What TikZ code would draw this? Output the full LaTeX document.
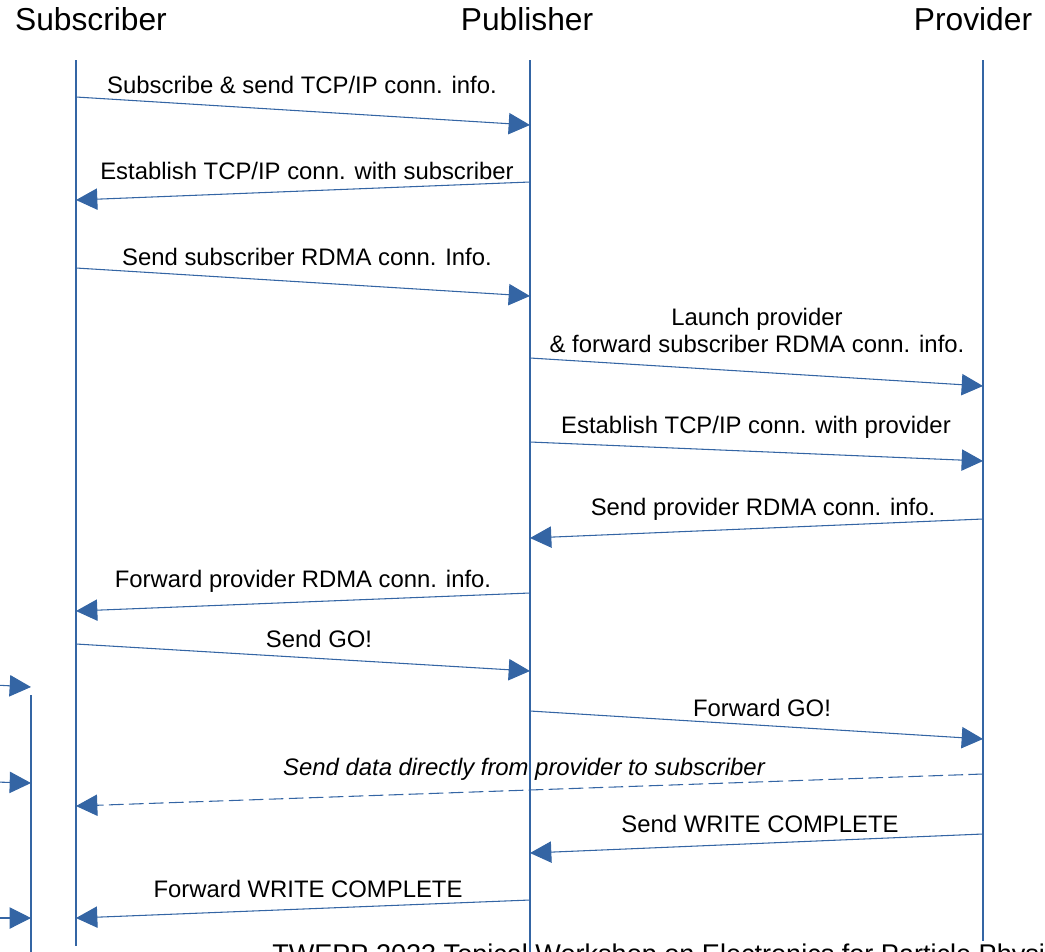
\documentclass[tikz,border=0pt]{standalone}
\usepackage{fontspec}
\setmainfont{Liberation Sans}
\usetikzlibrary{arrows.meta}
\definecolor{lineblue}{HTML}{3465A4}

\begin{document}
\begin{tikzpicture}[x=0.75pt,y=-0.75pt,
    life/.style={draw=lineblue,line width=2pt},
    msg/.style={draw=lineblue,line width=0.8pt,-{Triangle[length=16pt,width=16pt]}},
    data/.style={msg,dash pattern=on 11pt off 4pt},
    lbl/.style={font=\fontsize{17.9}{20.25}\selectfont,inner sep=0pt,align=center},
    head/.style={font=\fontsize{23.8}{26}\selectfont,inner sep=0pt}]
    \useasboundingbox (0,0) rectangle (1045,951);

    % participants
    \node[head] (sub)  at (91,19)  {Subscriber};
    \node[head] (pub)  at (527,19) {Publisher};
    \node[head] (prov) at (973,19) {Provider};

    \coordinate (sTop) at (76,60);   \coordinate (sBot) at (76,946);
    \coordinate (pTop) at (530,60);  \coordinate (pBot) at (530,965);
    \coordinate (vTop) at (983,60);  \coordinate (vBot) at (983,941);
    \draw[life] (sTop) -- (sBot);
    \draw[life] (pTop) -- (pBot);
    \draw[life] (vTop) -- (vBot);

    % message end points
    \coordinate (m1a)  at (76,97);   \coordinate (m1b)  at (530,125);
    \coordinate (m2a)  at (530,182); \coordinate (m2b)  at (76,200);
    \coordinate (m3a)  at (76,268);  \coordinate (m3b)  at (530,296);
    \coordinate (m4a)  at (530,358); \coordinate (m4b)  at (983,386);
    \coordinate (m5a)  at (530,442); \coordinate (m5b)  at (983,461);
    \coordinate (m6a)  at (983,519); \coordinate (m6b)  at (530,538);
    \coordinate (m7a)  at (530,593); \coordinate (m7b)  at (76,611);
    \coordinate (m8a)  at (76,644);  \coordinate (m8b)  at (530,671);
    \coordinate (m9a)  at (530,711); \coordinate (m9b)  at (983,739);
    \coordinate (m10a) at (983,774); \coordinate (m10b) at (76,806);
    \coordinate (m11a) at (983,834); \coordinate (m11b) at (530,853);
    \coordinate (m12a) at (530,900); \coordinate (m12b) at (76,918);

    \draw[msg]  (m1a)  -- (m1b);
    \draw[msg]  (m2a)  -- (m2b);
    \draw[msg]  (m3a)  -- (m3b);
    \draw[msg]  (m4a)  -- (m4b);
    \draw[msg]  (m5a)  -- (m5b);
    \draw[msg]  (m6a)  -- (m6b);
    \draw[msg]  (m7a)  -- (m7b);
    \draw[msg]  (m8a)  -- (m8b);
    \draw[msg]  (m9a)  -- (m9b);
    \draw[data] (m10a) -- (m10b);
    \draw[msg]  (m11a) -- (m11b);
    \draw[msg]  (m12a) -- (m12b);

    % labels
    \node[lbl] (l1)  at (302,85)    {Subscribe \& send TCP/IP conn. info.};
    \node[lbl] (l2)  at (307,171)   {Establish TCP/IP conn. with subscriber};
    \node[lbl] (l3)  at (307,257)   {Send subscriber RDMA conn. Info.};
    \node[lbl] (l4)  at (757,330.5) {Launch provider\\\& forward subscriber RDMA conn. info.};
    \node[lbl] (l5)  at (756,427)   {Establish TCP/IP conn. with provider};
    \node[lbl] (l6)  at (763,509)   {Send provider RDMA conn. info.};
    \node[lbl] (l7)  at (303,581)   {Forward provider RDMA conn. info.};
    \node[lbl] (l8)  at (319,639)   {Send GO!};
    \node[lbl] (l9)  at (762,708)   {Forward GO!};
    \node[lbl,font=\fontsize{17.9}{20.25}\selectfont\itshape] (l10) at (524,769)
        {Send data directly from provider to subscriber};
    \node[lbl] (l11) at (760,824)   {Send WRITE COMPLETE};
    \node[lbl] (l12) at (308,889)   {Forward WRITE COMPLETE};

    % cut-off parts at the edges
    \coordinate (xTop) at (31,695);  \coordinate (xBot) at (31,965);
    \draw[life] (xTop) -- (xBot);
    \coordinate (x1a) at (-5,685);   \coordinate (x1b) at (31,687);
    \coordinate (x2a) at (-5,782);   \coordinate (x2b) at (31,783);
    \coordinate (x3a) at (-5,918);   \coordinate (x3b) at (31,918);
    \draw[msg] (x1a) -- (x1b);
    \draw[msg] (x2a) -- (x2b);
    \draw[msg] (x3a) -- (x3b);
    \node[anchor=base west,inner sep=0pt,font=\fontsize{20.3}{22}\selectfont] (foot) at (272,963)
        {TWEPP 2023 Topical Workshop on Electronics for Particle Physics};
\end{tikzpicture}
\end{document}
